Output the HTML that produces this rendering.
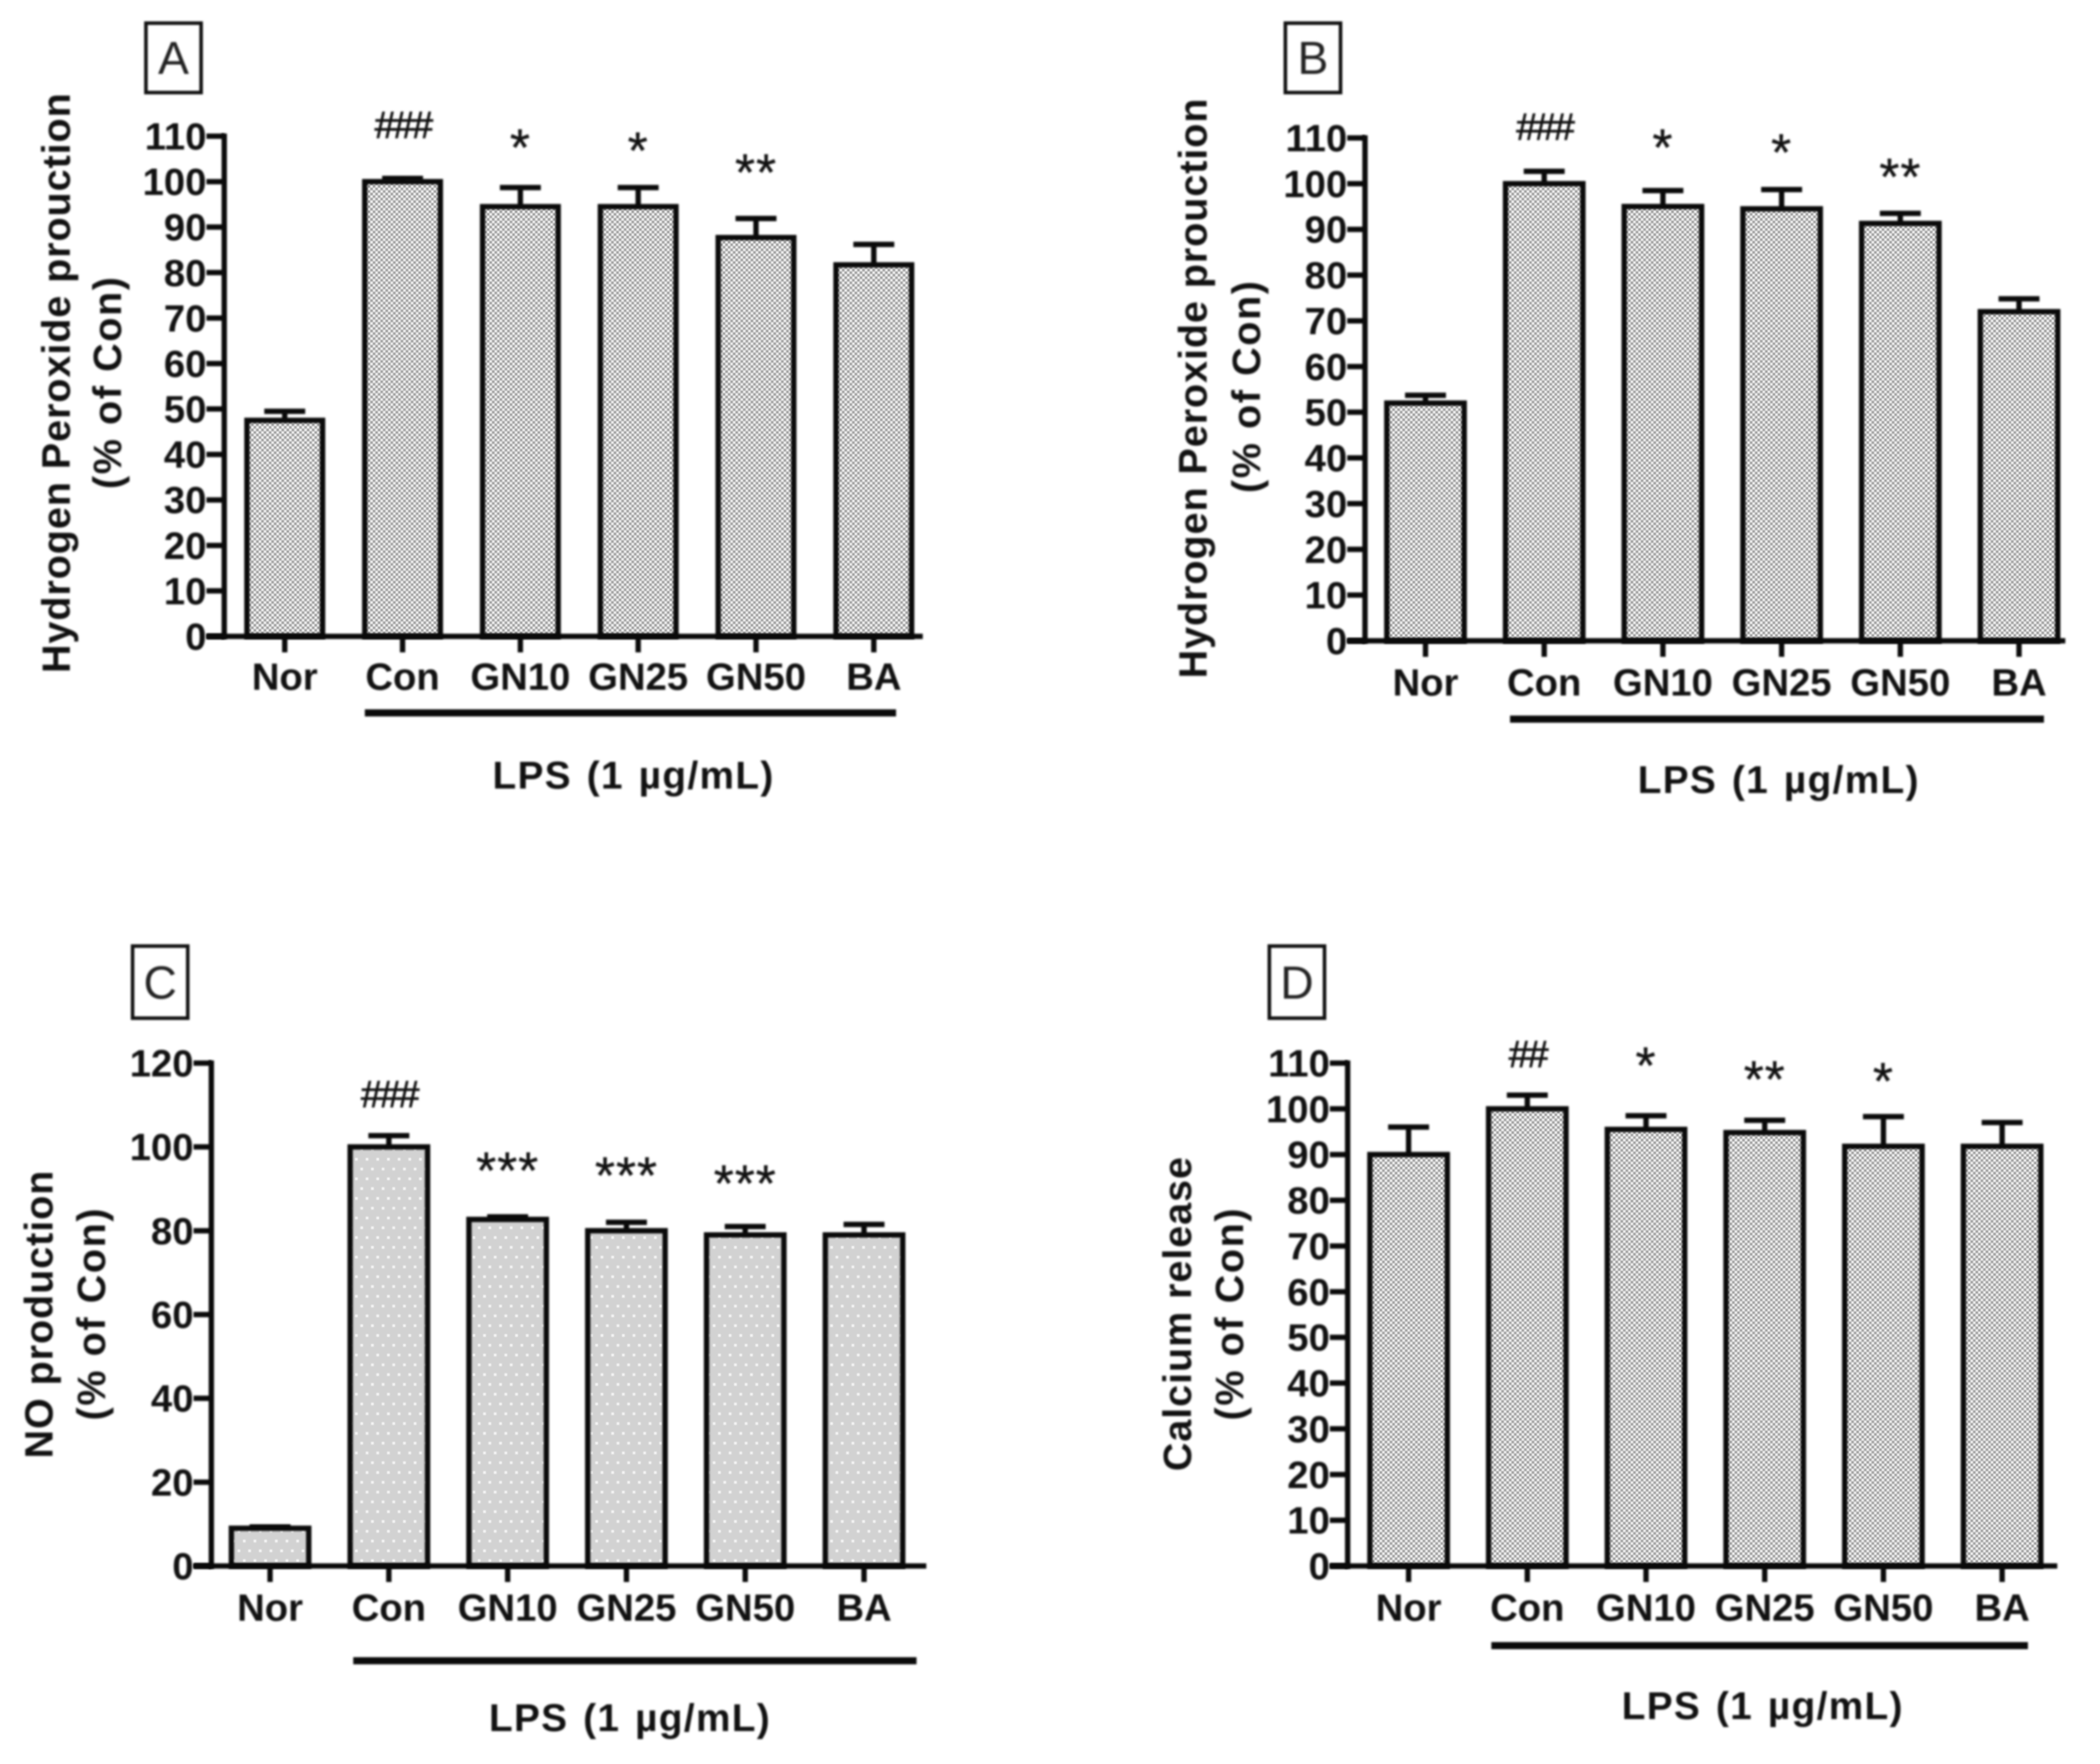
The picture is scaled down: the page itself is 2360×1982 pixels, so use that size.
<!DOCTYPE html>
<html lang="en">
<head>
<meta charset="utf-8">
<title>Hydrogen peroxide, NO and calcium release bar charts</title>
<style>
html,body{margin:0;padding:0;background:#fff}
svg{display:block}
text,line,.o{filter:blur(1.1px)}
.f{filter:blur(0.5px)}
text{font-family:"Liberation Sans",sans-serif;fill:#111}
.t{font-size:43px;font-weight:700}
.y{font-size:44.5px;font-weight:700;text-anchor:middle;letter-spacing:1px}
.s{font-size:44.5px;font-weight:700;text-anchor:middle;letter-spacing:1.75px}
.l{font-size:43.6px;font-weight:700;text-anchor:middle;letter-spacing:1.5px;word-spacing:3px}
.p{font-size:52px;text-anchor:middle;fill:#222}
</style>
</head>
<body>
<svg id="figure" xmlns="http://www.w3.org/2000/svg" width="2360" height="1982" viewBox="0 0 2360 1982">
<defs>
<pattern id="checker" width="5.7" height="5.7" patternUnits="userSpaceOnUse">
<rect width="5.7" height="5.7" fill="#f6f6f6"/>
<rect width="2.85" height="2.85" fill="#9a9a9a"/>
<rect x="2.85" y="2.85" width="2.85" height="2.85" fill="#9a9a9a"/>
</pattern>
<pattern id="dots" width="24" height="22" patternUnits="userSpaceOnUse">
<rect width="24" height="22" fill="#d2d2d2"/>
<rect x="3" y="3" width="3" height="3" fill="#f6f6f6"/>
<rect x="15" y="3" width="3" height="3" fill="#f6f6f6"/>
<rect x="9" y="14" width="3" height="3" fill="#f6f6f6"/>
<rect x="21" y="14" width="3" height="3" fill="#f6f6f6"/>
</pattern>
</defs>

<g id="panel-a">
<rect class="o" x="164" y="26" width="62" height="78" fill="#fff" stroke="#111" stroke-width="4"/>
<text class="p" x="195" y="83">A</text>
<text class="y" transform="translate(78.5 430) rotate(-90)">Hydrogen Peroxide prouction</text>
<text class="s" transform="translate(136 429.5) rotate(-90)">(% of Con)</text>
<text class="l" x="712" y="886">LPS (1 µg/mL)</text>
</g>

<g id="panel-b">
<rect class="o" x="1444.5" y="26" width="62" height="78" fill="#fff" stroke="#111" stroke-width="4"/>
<text class="p" x="1475.5" y="83">B</text>
<text class="y" transform="translate(1356 436) rotate(-90)">Hydrogen Peroxide prouction</text>
<text class="s" transform="translate(1416 434) rotate(-90)">(% of Con)</text>
<text class="l" x="1999" y="891">LPS (1 µg/mL)</text>
</g>

<g id="panel-c">
<rect class="o" x="149" y="1063" width="62" height="81" fill="#fff" stroke="#111" stroke-width="4"/>
<text class="p" x="180" y="1122">C</text>
<text class="y" transform="translate(59 1476.5) rotate(-90)">NO production</text>
<text class="s" transform="translate(118 1476) rotate(-90)">(% of Con)</text>
<text class="l" x="708" y="1945">LPS (1 µg/mL)</text>
</g>

<g id="panel-d">
<rect class="o" x="1426.5" y="1063" width="62" height="81" fill="#fff" stroke="#111" stroke-width="4"/>
<text class="p" x="1457.5" y="1122">D</text>
<text class="y" transform="translate(1338.5 1476) rotate(-90)">Calcium release</text>
<text class="s" transform="translate(1397 1476) rotate(-90)">(% of Con)</text>
<text class="l" x="1981" y="1931.5">LPS (1 µg/mL)</text>
</g>
</svg>

<script>
const categories = ["Nor", "Con", "GN10", "GN25", "GN50", "BA"];
const ticks110 = [0, 10, 20, 30, 40, 50, 60, 70, 80, 90, 100, 110];
const ticks120 = [0, 20, 40, 60, 80, 100, 120];

const valuesA = [47.5, 100, 94.5, 94.5, 87.7, 81.7];
const errorsA = [2, 0.7, 4.2, 4.2, 4.2, 4.5];
const sigA = ["", "###", "*", "*", "**", ""];
const sigHeightA = [0, 112.5, 109, 108.3, 103.5, 0];

const valuesB = [52, 100, 95, 94.5, 91.3, 72];
const errorsB = [1.7, 2.7, 3.5, 4.2, 2.2, 2.8];
const sigB = ["", "###", "*", "*", "**", ""];
const sigHeightB = [0, 112.5, 109.4, 108.3, 103, 0];

const valuesC = [9, 100, 82.7, 80, 79, 79];
const errorsC = [0.3, 2.7, 0.6, 2, 2, 2.5];
const sigC = ["", "###", "***", "***", "***", ""];
const sigHeightC = [0, 112.7, 96, 94.8, 92.9, 0];

const valuesD = [90, 100, 95.5, 94.8, 91.8, 91.8];
const errorsD = [6, 3, 3, 2.7, 6.5, 5.2];
const sigD = ["", "##", "*", "**", "*", ""];
const sigHeightD = [0, 112, 111, 108, 107.6, 0];

const NS = "http://www.w3.org/2000/svg";

function make(parent, tag, attrs, text) {
  const el = document.createElementNS(NS, tag);
  for (const k in attrs) el.setAttribute(k, attrs[k]);
  if (text !== undefined) el.textContent = text;
  parent.appendChild(el);
  return el;
}

function drawPanel(cfg) {
  const root = document.getElementById(cfg.id);
  const yMax = cfg.ticks[cfg.ticks.length - 1];
  const yScale = v => cfg.y0 - (v / yMax) * (cfg.y0 - cfg.yTop);
  const xScale = i => cfg.x0 + cfg.step * i;
  const w = 6;

  cfg.values.forEach((v, i) => {
    const cx = xScale(i);
    const topY = yScale(v);
    const errY = yScale(v + cfg.errors[i]);

    const stem = make(root, "line", {x1: cx, x2: cx, y1: topY, y2: errY, stroke: "#0a0a0a", "stroke-width": w});
    
    

    const cap = make(root, "line", {x1: cx - 23, x2: cx + 23, y1: errY, y2: errY, stroke: "#0a0a0a", "stroke-width": w});
    
    

    const bar = make(root, "rect", {class: "f", x: cx - cfg.barW / 2, y: topY, width: cfg.barW, height: cfg.y0 - topY, fill: "url(#" + cfg.fill + ")"});
    
    

    const outline = make(root, "rect", {class: "o", x: cx - cfg.barW / 2, y: topY, width: cfg.barW, height: cfg.y0 - topY, fill: "none", stroke: "#0a0a0a", "stroke-width": 6});
    
    

    const tick = make(root, "line", {x1: cx, x2: cx, y1: cfg.y0, y2: cfg.y0 + 18, stroke: "#0a0a0a", "stroke-width": w});
    
    

    const label = make(root, "text", {class: "t", x: cx, y: cfg.catY, "text-anchor": "middle"}, categories[i]);
    
    

    if (cfg.sig[i]) {
      const hash = cfg.sig[i][0] === "#";
      const mark = make(root, "text", {
        x: cx, y: yScale(cfg.sigHeight[i]) + (hash ? 15 : 28), "text-anchor": "middle",
        "font-size": hash ? 43 : 58, "letter-spacing": hash ? -3 : 1,
        stroke: "#111", "stroke-width": hash ? 0.8 : 0.4
      }, cfg.sig[i]);
      
      
    }
  });

  cfg.ticks.forEach(t => {
    const y = yScale(t);
    const tk = make(root, "line", {x1: cfg.axisX - 20, x2: cfg.axisX, y1: y, y2: y, stroke: "#0a0a0a", "stroke-width": w});
    
    

    const lab = make(root, "text", {class: "t", x: cfg.axisX - 20, y: y + 15, "text-anchor": "end"}, String(t));
    
    
  });

  const yAxis = make(root, "line", {x1: cfg.axisX, x2: cfg.axisX, y1: cfg.yTop - 3, y2: cfg.y0 + 3, stroke: "#0a0a0a", "stroke-width": w});
  
  

  const xAxis = make(root, "line", {x1: cfg.axisX - 20, x2: cfg.axisEnd, y1: cfg.y0, y2: cfg.y0, stroke: "#0a0a0a", "stroke-width": w});
  
  

  const bracket = make(root, "rect", {class: "o", x: cfg.lpsX1, y: cfg.lpsY - 4, width: cfg.lpsX2 - cfg.lpsX1, height: 8, fill: "#0a0a0a"});
  
  
}

drawPanel({id: "panel-a", ticks: ticks110, values: valuesA, errors: errorsA, sig: sigA, sigHeight: sigHeightA, fill: "checker",
  axisX: 252, y0: 715, yTop: 153, x0: 320, step: 132.4, barW: 85, axisEnd: 1037, catY: 775, lpsX1: 410, lpsX2: 1007, lpsY: 801});
drawPanel({id: "panel-b", ticks: ticks110, values: valuesB, errors: errorsB, sig: sigB, sigHeight: sigHeightB, fill: "checker",
  axisX: 1534, y0: 720, yTop: 155, x0: 1602, step: 133.4, barW: 87, axisEnd: 2321, catY: 781.5, lpsX1: 1697, lpsX2: 2297, lpsY: 808});
drawPanel({id: "panel-c", ticks: ticks120, values: valuesC, errors: errorsC, sig: sigC, sigHeight: sigHeightC, fill: "dots",
  axisX: 237.5, y0: 1759.5, yTop: 1194.5, x0: 303.5, step: 133.5, barW: 87, axisEnd: 1041, catY: 1821, lpsX1: 397, lpsX2: 1030, lpsY: 1866});
drawPanel({id: "panel-d", ticks: ticks110, values: valuesD, errors: errorsD, sig: sigD, sigHeight: sigHeightD, fill: "checker",
  axisX: 1514.5, y0: 1759.5, yTop: 1194.5, x0: 1583, step: 133.4, barW: 87, axisEnd: 2312, catY: 1821, lpsX1: 1676, lpsX2: 2279, lpsY: 1849});
</script>
</body>
</html>
